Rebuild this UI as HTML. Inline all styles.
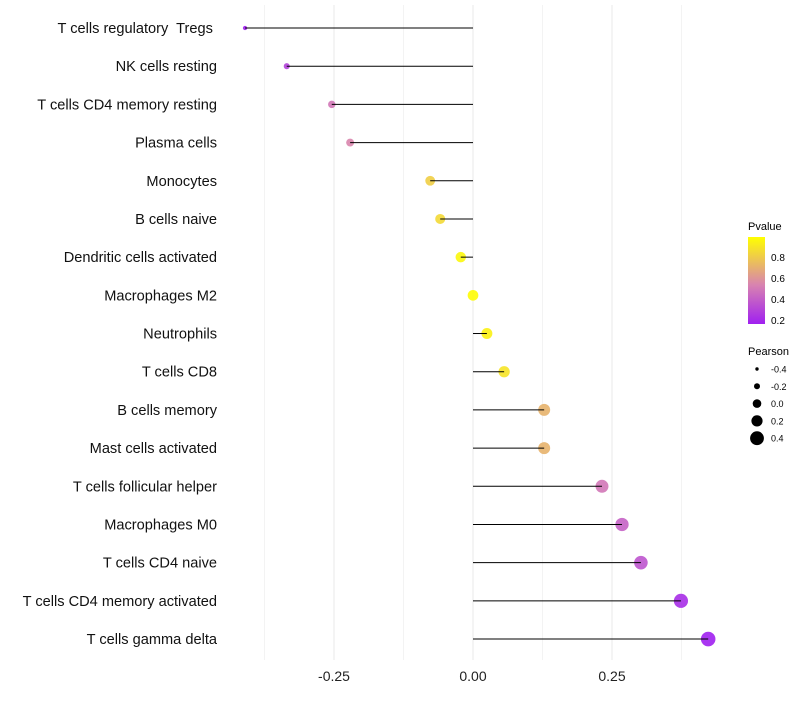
<!DOCTYPE html>
<html><head><meta charset="utf-8"><style>
body{margin:0;background:#fff;font-family:"Liberation Sans",sans-serif}
</style></head><body>
<svg id="chart" width="800" height="700" xmlns="http://www.w3.org/2000/svg">
<defs><linearGradient id="pg" x1="0" y1="1" x2="0" y2="0">
<stop offset="0" stop-color="#a020f0"/><stop offset="0.45" stop-color="#d883b0"/><stop offset="1" stop-color="#ffff00"/>
</linearGradient></defs>
<g id="grid"></g><g id="dots"></g><g id="marks"></g><g id="labels"></g>
<g font-size="10" fill="#000">
<text x="748" y="230" font-size="11">Pvalue</text>
<rect x="748" y="237" width="17" height="87" fill="url(#pg)"/>
<text x="771" y="261">0.8</text>
<text x="771" y="282">0.6</text>
<text x="771" y="303">0.4</text>
<text x="771" y="324">0.2</text>
<text x="748" y="355" font-size="11">Pearson</text>
<g id="sizeLegend"></g>
</g>
</svg>
<script>
const categories=["T cells regulatory\u00a0 Tregs\u00a0","NK cells resting","T cells CD4 memory resting","Plasma cells","Monocytes","B cells naive","Dendritic cells activated","Macrophages M2","Neutrophils","T cells CD8","B cells memory","Mast cells activated","T cells follicular helper","Macrophages M0","T cells CD4 naive","T cells CD4 memory activated","T cells gamma delta"];
const pearson=[-0.41,-0.335,-0.254,-0.221,-0.077,-0.059,-0.022,0.0,0.025,0.056,0.128,0.128,0.232,0.268,0.302,0.374,0.423];
const pvalue=[0.17,0.3,0.5,0.55,0.82,0.86,0.97,0.99,0.95,0.9,0.72,0.72,0.5,0.42,0.37,0.22,0.17];
const xTicks=[-0.25,0,0.25];
const xTickLabels=["-0.25","0.00","0.25"];
const sizeLegendVals=[-0.4,-0.2,0.0,0.2,0.4];
const sizeLegendLabels=["-0.4","-0.2","0.0","0.2","0.4"];
const NS="http://www.w3.org/2000/svg";
const X=v=>473+v*556;
const Y=i=>28+i*38.19;
const R=v=>Math.sqrt(Math.max(1.5,28.5+58*v));
const RL=v=>4.3+6.5*v;
function col(p){
  const t=Math.max(0,Math.min(1,(p-0.17)/0.83));
  const s=[[0,[160,32,240]],[0.45,[216,131,176]],[1,[255,255,0]]];
  let a=s[0],b=s[1]; if(t>0.45){a=s[1];b=s[2];}
  const f=(t-a[0])/(b[0]-a[0]);
  const c=a[1].map((v,k)=>Math.round(v+(b[1][k]-v)*f));
  return `rgb(${c})`;
}
function mk(tag,attrs,parent){const e=document.createElementNS(NS,tag);for(const k in attrs)e.setAttribute(k,attrs[k]);parent.appendChild(e);return e;}
const grid=document.getElementById('grid'),marks=document.getElementById('marks'),dots=document.getElementById('dots'),labels=document.getElementById('labels');
[-0.375,-0.25,-0.125,0,0.125,0.25,0.375].forEach(v=>{
  const l=mk('line',{x1:X(v),x2:X(v),y1:5,y2:660,stroke:'#ebebeb','stroke-width':Math.abs(v*8)%2===0?1.1:0.6},grid);
  
  
});
xTicks.forEach((v,i)=>{
  const t=mk('text',{x:X(v),y:681,'text-anchor':'middle','font-size':14,fill:'#222'},labels);
  t.textContent=xTickLabels[i];
  
  
});
categories.forEach((c,i)=>{
  const t=mk('text',{x:217,y:Y(i)+5,'text-anchor':'end','font-size':14.6,fill:'#111'},labels);
  t.textContent=c;
  
  
  const d=mk('circle',{cx:X(pearson[i]),cy:Y(i),r:R(pearson[i]),fill:col(pvalue[i]),'fill-opacity':0.9},dots);
  
  
  const l=mk('line',{x1:X(0),x2:X(pearson[i]),y1:Y(i),y2:Y(i),stroke:'#000','stroke-width':1},marks);
  
  
});
const sl=document.getElementById('sizeLegend');
sizeLegendVals.forEach((v,i)=>{
  const y=369+i*17.3;
  const d=mk('circle',{cx:757,cy:y,r:RL(v),fill:'#000'},sl);
  
  
  const t=mk('text',{x:771,y:y+3.5,'font-size':9},sl);
  t.textContent=sizeLegendLabels[i];
  
  
});
</script>
</body></html>
